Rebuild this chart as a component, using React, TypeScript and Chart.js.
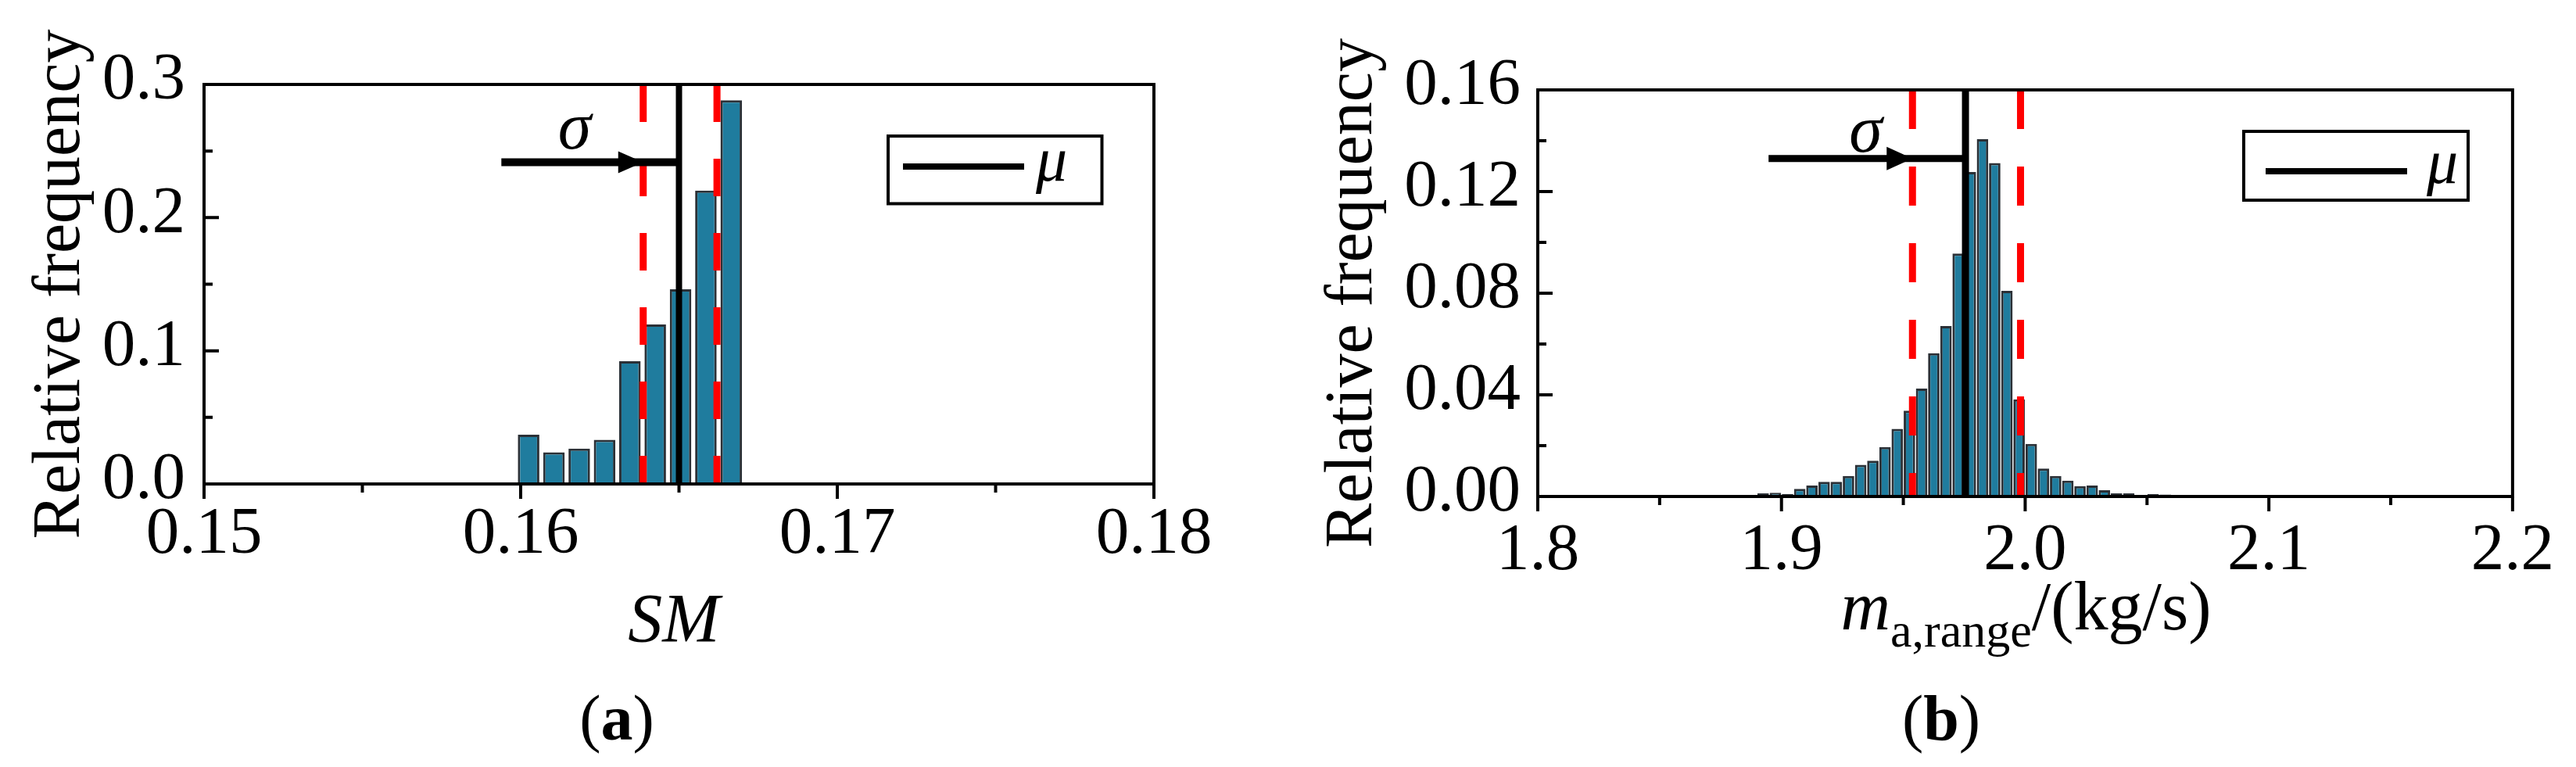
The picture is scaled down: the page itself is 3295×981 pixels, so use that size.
import React, { useEffect, useRef } from "react";
import { Chart, registerables } from "chart.js";

Chart.register(...registerables);

function pickSerif(): string {
  const candidates = ["Liberation Serif", "Times New Roman", "Tinos", "Times", "DejaVu Serif", "Noto Serif", "FreeSerif", "Nimbus Roman"];
  try {
    const ctx = document.createElement("canvas").getContext("2d");
    if (ctx) {
      const sample = "Relative frequency 0.123456789 mMWil";
      for (const name of candidates) {
        for (const base of ["monospace", "sans-serif"]) {
          ctx.font = `72px ${base}`;
          const w0 = ctx.measureText(sample).width;
          ctx.font = `72px "${name}", ${base}`;
          const w1 = ctx.measureText(sample).width;
          if (Math.abs(w0 - w1) > 0.5) return `"${name}", serif`;
        }
      }
    }
  } catch (e) {
    /* ignore */
  }
  return "serif";
}

const SERIF = pickSerif();
const BAR_FILL = "#1f7c9e";
const BAR_EDGE = "#2b3036";
const SIGMA_RED = "#ff0000";

// ---------- Panel (a): SM ----------
const smBinCenters = [0.16025, 0.16105, 0.16185, 0.16265, 0.16345, 0.16425, 0.16505, 0.16585, 0.16665, 0.16745, 0.16825];
const smFrequency = [0.037, 0.0238, 0.0265, 0.0332, 0.0921, 0.1197, 0.1462, 0.2203, 0.2881, 0.0012, 0.001];
const smMean = 0.165;
const smSigmaLow = 0.16387;
const smSigmaHigh = 0.1662;
const smXTicks = [0.15, 0.16, 0.17, 0.18];
const smXMinorTicks = [0.155, 0.165, 0.175];
const smYTicks = [0, 0.1, 0.2, 0.3];
const smYMinorTicks = [0.05, 0.15, 0.25];
const smArrowStart = 0.15939;
const smArrowLevel = 0.2416;

// ---------- Panel (b): m_a,range ----------
const maBinCenters = [
  1.8925, 1.8975, 1.9025, 1.9075, 1.9125, 1.9175, 1.9225, 1.9275, 1.9325, 1.9375,
  1.9425, 1.9475, 1.9525, 1.9575, 1.9625, 1.9675, 1.9725, 1.9775, 1.9825, 1.9875,
  1.9925, 1.9975, 2.0025, 2.0075, 2.0125, 2.0175, 2.0225, 2.0275, 2.0325, 2.0375,
  2.0425, 2.0475, 2.0525, 2.0575, 2.0775,
];
const maFrequency = [
  0.0012, 0.0015, 0.001, 0.003, 0.0043, 0.0058, 0.0058, 0.0081, 0.0125, 0.0141,
  0.0195, 0.0266, 0.0338, 0.0425, 0.0564, 0.0671, 0.0956, 0.1277, 0.1406, 0.1312,
  0.0809, 0.0382, 0.0207, 0.011, 0.0081, 0.0062, 0.0041, 0.0043, 0.0025, 0.0012,
  0.0012, 0.0006, 0.0009, 0.0008, 0.0004,
];
const maMean = 1.9755;
const maSigmaLow = 1.95375;
const maSigmaHigh = 1.99809;
const maXTicks = [1.8, 1.9, 2.0, 2.1, 2.2];
const maXMinorTicks = [1.85, 1.95, 2.05, 2.15];
const maYTicks = [0, 0.04, 0.08, 0.12, 0.16];
const maYMinorTicks = [0.02, 0.06, 0.1, 0.14];
const maArrowStart = 1.8947;
const maArrowLevel = 0.133;

type Run = { text: string; font: string; dy: number };

type PanelSpec = {
  id: string;
  canvasLeft: number;
  width: number;
  height: number;
  area: { left: number; top: number; right: number; bottom: number };
  centers: number[];
  freq: number[];
  mean: number;
  sigmaLow: number;
  sigmaHigh: number;
  xMin: number;
  xMax: number;
  yMax: number;
  xTicks: number[];
  xMinor: number[];
  yTicks: number[];
  yMinor: number[];
  xDecimals: number;
  yDecimals: number;
  barPercentage: number;
  xTickPadding: number;
  yTickPadding: number;
  yTitlePadding: number;
  dash: number[];
  sigmaWidth: number;
  meanWidth: number;
  arrowStart: number;
  arrowLevel: number;
  arrowWidth: number;
  headLen: number;
  headHalf: number;
  sigmaLabel: { cx: number; baseline: number };
  legendBox: { left: number; top: number; right: number; bottom: number };
  legendLine: { x0: number; x1: number; y: number };
  legendMu: { cx: number; baseline: number };
  xTitle: { runs: Run[]; cx: number; baseline: number };
  caption: { runs: Run[]; cx: number; baseline: number };
};

const panelA: PanelSpec = {
  id: "a",
  canvasLeft: 0,
  width: 1650,
  height: 981,
  area: { left: 261, top: 108, right: 1476, bottom: 619 },
  centers: smBinCenters,
  freq: smFrequency,
  mean: smMean,
  sigmaLow: smSigmaLow,
  sigmaHigh: smSigmaHigh,
  xMin: 0.15,
  xMax: 0.18,
  yMax: 0.3,
  xTicks: smXTicks,
  xMinor: smXMinorTicks,
  yTicks: smYTicks,
  yMinor: smYMinorTicks,
  xDecimals: 2,
  yDecimals: 1,
  barPercentage: 0.85,
  xTickPadding: 23,
  yTickPadding: 24,
  yTitlePadding: 35,
  dash: [48, 47],
  sigmaWidth: 9,
  meanWidth: 8,
  arrowStart: smArrowStart,
  arrowLevel: smArrowLevel,
  arrowWidth: 10,
  headLen: 32,
  headHalf: 14,
  sigmaLabel: { cx: 735, baseline: 190 },
  legendBox: { left: 1136, top: 174, right: 1409.5, bottom: 260.5 },
  legendLine: { x0: 1155, x1: 1310, y: 213 },
  legendMu: { cx: 1345, baseline: 231 },
  xTitle: { runs: [{ text: "SM", font: `italic 88px ${SERIF}`, dy: 0 }], cx: 862, baseline: 820 },
  caption: {
    runs: [
      { text: "(", font: `82px ${SERIF}`, dy: 0 },
      { text: "a", font: `bold 82px ${SERIF}`, dy: 0 },
      { text: ")", font: `82px ${SERIF}`, dy: 0 },
    ],
    cx: 789,
    baseline: 946,
  },
};

const panelB: PanelSpec = {
  id: "b",
  canvasLeft: 1650,
  width: 1645,
  height: 981,
  area: { left: 317, top: 115, right: 1570, bottom: 635 },
  centers: maBinCenters,
  freq: maFrequency,
  mean: maMean,
  sigmaLow: maSigmaLow,
  sigmaHigh: maSigmaHigh,
  xMin: 1.8,
  xMax: 2.2,
  yMax: 0.16,
  xTicks: maXTicks,
  xMinor: maXMinorTicks,
  yTicks: maYTicks,
  yMinor: maYMinorTicks,
  xDecimals: 1,
  yDecimals: 2,
  barPercentage: 0.94,
  xTickPadding: 28,
  yTickPadding: 22,
  yTitlePadding: 38,
  dash: [50, 48],
  sigmaWidth: 9,
  meanWidth: 9,
  arrowStart: maArrowStart,
  arrowLevel: maArrowLevel,
  arrowWidth: 9,
  headLen: 33,
  headHalf: 15,
  sigmaLabel: { cx: 736.5, baseline: 194 },
  legendBox: { left: 1220, top: 168, right: 1507, bottom: 256 },
  legendLine: { x0: 1248, x1: 1429, y: 219 },
  legendMu: { cx: 1474, baseline: 234 },
  xTitle: {
    runs: [
      { text: "m", font: `italic 88px ${SERIF}`, dy: 0 },
      { text: "a,range", font: `62px ${SERIF}`, dy: 22 },
      { text: "/(kg/s)", font: `88px ${SERIF}`, dy: 0 },
    ],
    cx: 941.5,
    baseline: 805,
  },
  caption: {
    runs: [
      { text: "(", font: `82px ${SERIF}`, dy: 0 },
      { text: "b", font: `bold 82px ${SERIF}`, dy: 0 },
      { text: ")", font: `82px ${SERIF}`, dy: 0 },
    ],
    cx: 833,
    baseline: 946,
  },
};

function drawRuns(ctx: CanvasRenderingContext2D, runs: Run[], cx: number, baseline: number) {
  let total = 0;
  const widths = runs.map((r) => {
    ctx.font = r.font;
    const w = ctx.measureText(r.text).width;
    total += w;
    return w;
  });
  let x = cx - total / 2;
  ctx.textAlign = "left";
  ctx.textBaseline = "alphabetic";
  runs.forEach((r, i) => {
    ctx.font = r.font;
    ctx.fillText(r.text, x, baseline + r.dy);
    x += widths[i];
  });
}

function makeConfig(spec: PanelSpec) {
  const X_AXIS_BOX = 100;
  const a = spec.area;
  const tickFont = { family: SERIF, size: 85, lineHeight: 1 };

  const framePlugin = {
    id: "frameTicks_" + spec.id,
    afterDatasetsDraw(chart: any) {
      const { ctx, chartArea: ca, scales } = chart;
      const xs = scales.x;
      const ys = scales.y;
      ctx.save();
      ctx.strokeStyle = "#000";
      ctx.lineWidth = 4;
      ctx.lineCap = "butt";
      ctx.beginPath();
      spec.xTicks.forEach((v) => {
        const p = xs.getPixelForValue(v);
        ctx.moveTo(p, ca.bottom);
        ctx.lineTo(p, ca.bottom + 19);
      });
      spec.xMinor.forEach((v) => {
        const p = xs.getPixelForValue(v);
        ctx.moveTo(p, ca.bottom);
        ctx.lineTo(p, ca.bottom + 11);
      });
      spec.yTicks.forEach((v) => {
        const p = ys.getPixelForValue(v);
        ctx.moveTo(ca.left, p);
        ctx.lineTo(ca.left + 19, p);
      });
      spec.yMinor.forEach((v) => {
        const p = ys.getPixelForValue(v);
        ctx.moveTo(ca.left, p);
        ctx.lineTo(ca.left + 11, p);
      });
      ctx.stroke();
      ctx.lineJoin = "miter";
      ctx.strokeRect(ca.left, ca.top, ca.right - ca.left, ca.bottom - ca.top);
      ctx.restore();
    },
  };

  const annotationPlugin = {
    id: "annotations_" + spec.id,
    afterDraw(chart: any) {
      const { ctx, scales } = chart;
      const xs = scales.x;
      const ys = scales.y;
      ctx.save();
      ctx.fillStyle = "#000";
      ctx.strokeStyle = "#000";
      const ay = ys.getPixelForValue(spec.arrowLevel);
      const x0 = xs.getPixelForValue(spec.arrowStart);
      const x1 = xs.getPixelForValue(spec.mean);
      const xt = xs.getPixelForValue(spec.sigmaLow);
      ctx.lineWidth = spec.arrowWidth;
      ctx.lineCap = "butt";
      ctx.beginPath();
      ctx.moveTo(x0, ay);
      ctx.lineTo(x1, ay);
      ctx.stroke();
      ctx.beginPath();
      ctx.moveTo(xt, ay);
      ctx.lineTo(xt - spec.headLen, ay - spec.headHalf);
      ctx.lineTo(xt - spec.headLen, ay + spec.headHalf);
      ctx.closePath();
      ctx.fill();
      ctx.font = `italic 86px ${SERIF}`;
      ctx.textAlign = "center";
      ctx.textBaseline = "alphabetic";
      ctx.fillText("σ", spec.sigmaLabel.cx, spec.sigmaLabel.baseline);
      const lb = spec.legendBox;
      ctx.fillStyle = "#fff";
      ctx.fillRect(lb.left, lb.top, lb.right - lb.left, lb.bottom - lb.top);
      ctx.fillStyle = "#000";
      ctx.lineWidth = 4;
      ctx.strokeRect(lb.left, lb.top, lb.right - lb.left, lb.bottom - lb.top);
      ctx.lineWidth = 8;
      ctx.beginPath();
      ctx.moveTo(spec.legendLine.x0, spec.legendLine.y);
      ctx.lineTo(spec.legendLine.x1, spec.legendLine.y);
      ctx.stroke();
      ctx.font = `italic 80px ${SERIF}`;
      ctx.textAlign = "center";
      ctx.fillText("μ", spec.legendMu.cx, spec.legendMu.baseline);
      drawRuns(ctx, spec.xTitle.runs, spec.xTitle.cx, spec.xTitle.baseline);
      drawRuns(ctx, spec.caption.runs, spec.caption.cx, spec.caption.baseline);
      ctx.restore();
    },
  };

  return {
    type: "bar",
    data: {
      datasets: [
        {
          type: "bar",
          label: "frequency",
          data: spec.centers.map((x, i) => ({ x, y: spec.freq[i] })),
          backgroundColor: BAR_FILL,
          borderColor: BAR_EDGE,
          borderWidth: 3,
          barPercentage: spec.barPercentage,
          categoryPercentage: 1,
          order: 3,
        },
        {
          type: "line",
          label: "sigma low",
          data: [
            { x: spec.sigmaLow, y: spec.yMax },
            { x: spec.sigmaLow, y: 0 },
          ],
          borderColor: SIGMA_RED,
          borderWidth: spec.sigmaWidth,
          borderDash: spec.dash,
          pointRadius: 0,
          fill: false,
          order: 2,
        },
        {
          type: "line",
          label: "sigma high",
          data: [
            { x: spec.sigmaHigh, y: spec.yMax },
            { x: spec.sigmaHigh, y: 0 },
          ],
          borderColor: SIGMA_RED,
          borderWidth: spec.sigmaWidth,
          borderDash: spec.dash,
          pointRadius: 0,
          fill: false,
          order: 2,
        },
        {
          type: "line",
          label: "μ",
          data: [
            { x: spec.mean, y: 0 },
            { x: spec.mean, y: spec.yMax },
          ],
          borderColor: "#000",
          borderWidth: spec.meanWidth,
          pointRadius: 0,
          fill: false,
          order: 1,
        },
      ],
    },
    options: {
      responsive: false,
      animation: false,
      devicePixelRatio: 1,
      layout: {
        padding: {
          left: 0,
          top: a.top,
          right: spec.width - a.right,
          bottom: spec.height - a.bottom - X_AXIS_BOX,
        },
      },
      plugins: {
        legend: { display: false },
        tooltip: { enabled: false },
        title: { display: false },
      },
      scales: {
        x: {
          type: "linear",
          min: spec.xMin,
          max: spec.xMax,
          offset: false,
          grid: { display: false, drawTicks: false },
          border: { display: false },
          ticks: {
            color: "#000",
            font: tickFont,
            padding: spec.xTickPadding,
            maxRotation: 0,
            minRotation: 0,
            autoSkip: false,
            callback: (v: any) => Number(v).toFixed(spec.xDecimals),
          },
          afterBuildTicks: (s: any) => {
            s.ticks = spec.xTicks.map((value) => ({ value }));
          },
          afterFit: (s: any) => {
            s.height = X_AXIS_BOX;
          },
        },
        y: {
          type: "linear",
          min: 0,
          max: spec.yMax,
          grid: { display: false, drawTicks: false },
          border: { display: false },
          ticks: {
            color: "#000",
            font: tickFont,
            padding: spec.yTickPadding,
            labelOffset: -4,
            autoSkip: false,
            callback: (v: any) => Number(v).toFixed(spec.yDecimals),
          },
          afterBuildTicks: (s: any) => {
            s.ticks = spec.yTicks.map((value) => ({ value }));
          },
          afterFit: (s: any) => {
            s.width = a.left;
          },
          title: {
            display: true,
            text: "Relative frequency",
            color: "#000",
            font: { family: SERIF, size: 86, lineHeight: 1 },
            padding: { top: spec.yTitlePadding, bottom: 0 },
          },
        },
      },
    },
    plugins: [framePlugin, annotationPlugin],
  };
}

function HistogramPanel({ spec }: { spec: PanelSpec }) {
  const ref = useRef<HTMLCanvasElement>(null);
  useEffect(() => {
    if (!ref.current) return;
    const chart = new Chart(ref.current, makeConfig(spec) as any);
    return () => chart.destroy();
  }, [spec]);
  return (
    <canvas
      ref={ref}
      width={spec.width}
      height={spec.height}
      style={{ position: "absolute", left: spec.canvasLeft, top: 0, width: spec.width, height: spec.height }}
    />
  );
}

export default function App() {
  return (
    <div
      style={{
        position: "absolute",
        left: 0,
        top: 0,
        width: 3295,
        height: 981,
        background: "#fff",
        overflow: "hidden",
      }}
    >
      <HistogramPanel spec={panelA} />
      <HistogramPanel spec={panelB} />
    </div>
  );
}
